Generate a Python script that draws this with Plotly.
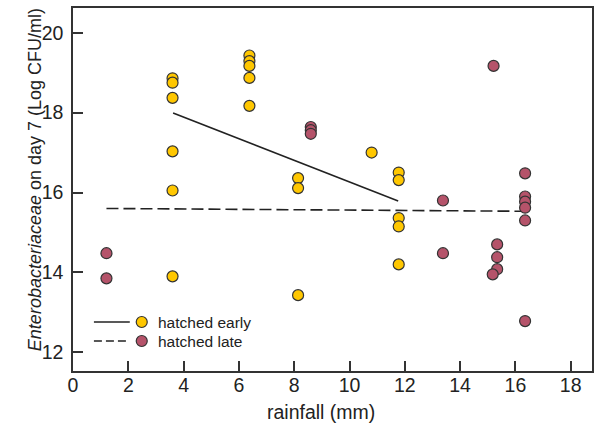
import plotly.graph_objects as go

# Data
early_x = [3.6, 3.6, 3.6, 3.6, 3.6, 3.6,
           6.38, 6.38, 6.38, 6.38, 6.38,
           8.14, 8.14, 8.14,
           10.8,
           11.78, 11.78, 11.78, 11.78, 11.78]
early_y = [18.86, 18.75, 18.37, 17.03, 16.05, 13.9,
           19.43, 19.29, 19.17, 18.87, 18.17,
           16.36, 16.11, 13.43,
           17.0,
           16.5, 16.31, 15.36, 15.15, 14.2]

late_x = [1.21, 1.21,
          8.6, 8.6, 8.6,
          13.38, 13.38,
          15.21,
          15.34, 15.34, 15.34, 15.18,
          16.35, 16.35, 16.35, 16.35, 16.35, 16.35]
late_y = [14.48, 13.85,
          17.64, 17.56, 17.47,
          15.8, 14.48,
          19.17,
          14.7, 14.38, 14.08, 13.95,
          16.48, 15.9, 15.77, 15.62, 15.3, 12.78]

early_fit_x = [3.62, 11.76]
early_fit_y = [17.99, 15.79]
late_fit_x = [1.21, 16.35]
late_fit_y = [15.6, 15.53]

x_ticks = [0, 2, 4, 6, 8, 10, 12, 14, 16, 18]
y_ticks = [12, 14, 16, 18, 20]

YELLOW = "#FFC700"
RED = "#B5536A"
INK = "#333333"
FONT = "Liberation Sans, Arial, sans-serif"

fig = go.Figure()
fig.add_trace(go.Scatter(x=early_fit_x, y=early_fit_y, mode="lines",
                         line=dict(color="#222222", width=1.6), showlegend=False, hoverinfo="skip"))
fig.add_trace(go.Scatter(x=late_fit_x, y=late_fit_y, mode="lines",
                         line=dict(color="#222222", width=1.6, dash="12px,5px"), showlegend=False, hoverinfo="skip"))
fig.add_trace(go.Scatter(x=early_x, y=early_y, mode="markers", name="hatched early",
                         marker=dict(size=11, color=YELLOW, line=dict(color=INK, width=1.2)), showlegend=False))
fig.add_trace(go.Scatter(x=late_x, y=late_y, mode="markers", name="hatched late",
                         marker=dict(size=11, color=RED, line=dict(color=INK, width=1.2)), showlegend=False))

# plot area in pixels: left 73, right 594, top 8, bottom 371
L, R, T, B = 73, 594, 8, 371
W, H = R - L, B - T
def px(xp):
    return (xp - L) / W
def py(yp):
    return (B - yp) / H

shapes = []
annotations = []
legend_rows = [("hatched early", YELLOW, "solid", 322), ("hatched late", RED, "dash", 341)]
for label, col, dash, ypix in legend_rows:
    shapes.append(dict(type="line", xref="paper", yref="paper", x0=px(94), x1=px(130),
                       y0=py(ypix), y1=py(ypix), line=dict(color="#222222", width=1.6,
                       dash="solid" if dash == "solid" else "8px,4px")))
    shapes.append(dict(type="circle", xref="paper", yref="paper", xsizemode="pixel", ysizemode="pixel",
                       xanchor=px(142), yanchor=py(ypix), x0=-5.5, x1=5.5, y0=-5.5, y1=5.5,
                       fillcolor=col, line=dict(color=INK, width=1.2)))
    annotations.append(dict(text=label, xref="paper", yref="paper", x=px(156), y=py(ypix),
                            xanchor="left", yanchor="middle", showarrow=False,
                            font=dict(size=15.5, color="#222222", family=FONT)))

annotations.append(dict(text="rainfall (mm)", xref="paper", yref="paper", x=px(322), y=py(412),
                        xanchor="center", yanchor="middle", showarrow=False,
                        font=dict(size=19.5, color="#222222", family=FONT)))
annotations.append(dict(text="<i>Enterobacteriaceae</i> on day 7 (Log CFU/ml)", xref="paper", yref="paper",
                        x=px(35), y=py(180), xanchor="center", yanchor="middle", textangle=-90,
                        showarrow=False, font=dict(size=18, color="#222222", family=FONT)))

fig.update_layout(
    width=599, height=424,
    margin=dict(l=L, r=599 - R, t=T, b=424 - B),
    paper_bgcolor="white", plot_bgcolor="white",
    font=dict(family=FONT, size=18, color="#222222"),
    shapes=shapes, annotations=annotations, showlegend=False,
)
fig.update_xaxes(range=[0, 18.77], tickvals=x_ticks, ticks="inside", ticklen=10, tickwidth=1.5,
                 tickcolor=INK, showline=True, linecolor=INK, linewidth=1.5, mirror=True,
                 showgrid=False, zeroline=False, ticklabelstandoff=-4,
                 tickfont=dict(size=19.5, color="#222222", family=FONT))
fig.update_yaxes(range=[11.53, 20.62], tickvals=y_ticks, ticks="inside", ticklen=10, tickwidth=1.5,
                 tickcolor=INK, showline=True, linecolor=INK, linewidth=1.5, mirror=True,
                 showgrid=False, zeroline=False, ticklabelstandoff=4,
                 tickfont=dict(size=19.5, color="#222222", family=FONT))

fig.write_html("out.html", config={"displayModeBar": False},
               post_script="document.body.style.margin='0';document.body.style.overflow='hidden';")
